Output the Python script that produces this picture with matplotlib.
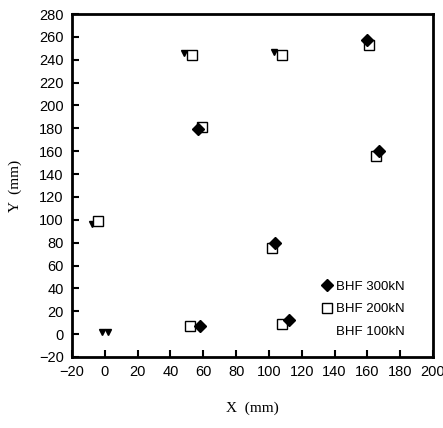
import matplotlib
matplotlib.use("Agg")
import matplotlib.pyplot as plt
from matplotlib.lines import Line2D

plt.rcParams['font.family'] = ['Liberation Sans', 'DejaVu Sans']

# measured positions (mm) for each blank holder force
x_300 = [57, 160, 167, 104, 112, 58]
y_300 = [179, 257, 160, 80, 12, 7]

x_200 = [53, 108, 59, 161, 165, -4, 102, 108, 52]
y_200 = [244, 244, 181, 253, 156, 99, 75, 9, 7]

x_100 = [48, 103, -8, -2, 2]
y_100 = [246, 247, 96, 2, 2]

xticks = list(range(-20, 201, 20))
yticks = list(range(-20, 281, 20))

fig = plt.figure(figsize=(4.43, 4.28), dpi=100)
ax = fig.add_axes([72 / 443, 1 - 357 / 428, 361 / 443, 343 / 428])

ax.plot(x_100, y_100, 'v', color='black', ms=5, zorder=2)
ax.plot(x_200, y_200, 's', mfc='white', mec='black', mew=1.0, ms=7, zorder=3)
ax.plot(x_300, y_300, 'D', color='black', ms=6, zorder=4)

ax.set_xlim(-20, 200)
ax.set_ylim(-20, 280)
ax.set_xticks(xticks)
ax.set_yticks(yticks)
ax.tick_params(direction='in', length=5, width=1.5, labelsize=10.5, pad=6,
               top=False, right=False)
for sp in ax.spines.values():
    sp.set_linewidth(2)

ax.set_xlabel('X  (mm)', family='Liberation Serif', fontsize=11, labelpad=16)
ax.set_ylabel('Y  (mm)', family='Liberation Serif', fontsize=11, labelpad=12)

handles = [
    Line2D([], [], ls='none', marker='D', color='black', ms=6),
    Line2D([], [], ls='none', marker='s', mfc='white', mec='black', ms=7),
    Line2D([], [], ls='none', marker='None'),
]
ax.legend(handles, ['BHF 300kN', 'BHF 200kN', 'BHF 100kN'],
          loc='lower right', bbox_to_anchor=(0.955, 0.02), frameon=False,
          fontsize=9.5, handlelength=0.8, handletextpad=0.3, labelspacing=0.8)

fig.savefig('out.png', dpi=100)
